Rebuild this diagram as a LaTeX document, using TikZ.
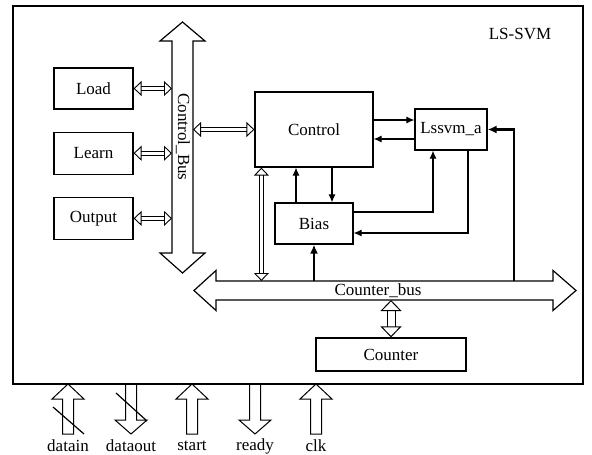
\documentclass[tikz,border=0pt]{standalone}
\usepackage{fontspec}
\setmainfont{Liberation Serif}
\usetikzlibrary{arrows.meta}
\usetikzlibrary{positioning}

\tikzset{
  blk/.style={draw,line width=1.2pt,inner sep=1pt,font=\fontsize{17}{20}\selectfont},
  lbl/.style={inner sep=0pt,font=\fontsize{17}{20}\selectfont},
  sig/.style={line width=1.1pt,-{Latex[length=8pt,width=7pt]}},
  thk/.style={line width=2.2pt,-{Latex[length=9pt,width=8pt]}},
  hollow/.style={double,double distance=3.4pt,line width=0.9pt,
    arrows={Triangle[open,width=15pt,length=8pt,line width=0.9pt]-Triangle[open,width=15pt,length=8pt,line width=0.9pt]}},
  hollowbig/.style={double,double distance=7pt,line width=1pt,
    arrows={Triangle[open,width=21pt,length=11pt,line width=1pt]-Triangle[open,width=21pt,length=11pt,line width=1pt]}},
  bus/.style={draw,line width=1.2pt,fill=white}
}

\begin{document}
\begin{tikzpicture}[x=1pt,y=-1pt]
\useasboundingbox (0,0) rectangle (592,455);

% frame
\draw[line width=1.2pt] (13,6) rectangle (583,384);
\node[lbl] (title) at (520,34) {LS-SVM};

% buses
\draw[bus] (182.5,22) -- (205,41) -- (193,41) -- (193,253) -- (205,253) -- (182.5,273)
  -- (160,253) -- (172,253) -- (172,41) -- (160,41) -- cycle;
\node[lbl,rotate=-90] (cbustxt) at (183,137) {Control\_Bus};
\draw[bus] (194,290.5) -- (216,270.5) -- (216,281) -- (553,281) -- (553,270.5) -- (576,290.5)
  -- (553,310.5) -- (553,300) -- (216,300) -- (216,310.5) -- cycle;
\node[lbl] (kbustxt) at (378,291) {Counter\_bus};
\coordinate (cbl) at (172,0);
\coordinate (cbr) at (193,0);
\coordinate (kbt) at (0,281);
\coordinate (kbb) at (0,300);

% blocks
\node[blk,minimum width=79pt,minimum height=41pt] (load) at (93.5,88.5) {Load};
\node[blk,minimum width=79pt,minimum height=42pt,below=22pt of load] (learn) {Learn};
\node[blk,minimum width=79pt,minimum height=42pt,below=22pt of learn] (output) {Output};
\node[blk,minimum width=118pt,minimum height=75pt] (ctrl) at (314,129.5) {Control};
\node[blk,minimum width=72pt,minimum height=41pt] (lss) at (451,129.5) {Lssvm\_a};
\node[blk,minimum width=78pt,minimum height=41pt] (bias) at (314,223.5) {Bias};
\node[blk,minimum width=150pt,minimum height=33pt] (cnt) at (391,354.5) {Counter};

% bus links
\draw[hollow] (load.east) -- (load.east -| cbl);
\draw[hollow] (learn.east) -- (learn.east -| cbl);
\draw[hollow] (output.east) -- (output.east -| cbl);
\draw[hollow] (ctrl.west) -- (ctrl.west -| cbr);
\draw[hollow] ([xshift=7pt]ctrl.south west) -- ([xshift=7pt]ctrl.south west |- kbt);
\draw[hollowbig] (cnt.north |- kbb) -- (cnt.north);

% signals
\draw[sig] ([yshift=9.5pt]ctrl.east) -- ([yshift=9.5pt]ctrl.east -| lss.west);
\draw[sig] ([yshift=-9.5pt]lss.west) -- ([yshift=-9.5pt]lss.west -| ctrl.east);
\draw[sig] ([xshift=-18pt]bias.north) -- ([xshift=-18pt]bias.north |- ctrl.south);
\draw[sig] ([xshift=18pt]ctrl.south) -- ([xshift=18pt]ctrl.south |- bias.north);
\draw[sig] ([yshift=11.5pt]bias.east) -| ([xshift=-18pt]lss.south);
\draw[sig] ([xshift=17pt]lss.south) |- ([yshift=-9.5pt]bias.east);
\draw[thk] (bias.south |- kbt) -- (bias.south);
\draw[thk] ([xshift=26pt]lss.east |- kbt) -- ([xshift=26pt]lss.east) -- (lss.east);

% pins
\foreach \x/\name in {68/datain,192/start,316/clk}{
  \draw[line width=1pt] (\x,384) -- (\x+16,399) -- (\x+5.5,399) -- (\x+5.5,434)
    -- (\x-5.5,434) -- (\x-5.5,399) -- (\x-16,399) -- cycle;
  \node[lbl] (\name) at (\x,446) {\name};
}
\foreach \x/\name in {131/dataout,255/ready}{
  \draw[line width=1pt] (\x-5.5,384) -- (\x-5.5,420) -- (\x-16,420) -- (\x,434)
    -- (\x+16,420) -- (\x+5.5,420) -- (\x+5.5,384);
  \node[lbl] (\name) at (\x,446) {\name};
}
\draw[line width=1.2pt] (53,407) -- (84,434);
\draw[line width=1.2pt] (116,393) -- (147,421);
\end{tikzpicture}
\end{document}
